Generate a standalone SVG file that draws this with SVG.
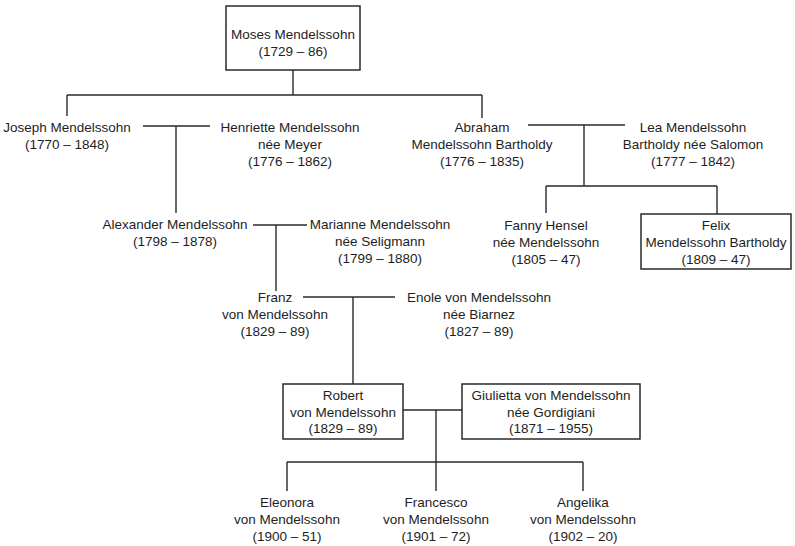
<svg xmlns="http://www.w3.org/2000/svg" width="795" height="546" viewBox="0 0 795 546">
<style>
text{font-family:"Liberation Sans",Arial,sans-serif;font-size:13.5px;fill:#1e1e1e;text-anchor:middle}
.box{fill:#fff;stroke:#2a2a2a;stroke-width:1.5}
.ln{fill:none;stroke:#2a2a2a;stroke-width:1.4}
</style>
<rect width="795" height="546" fill="#fff"/>
<g id="connectors" class="ln">
<path d="M293,70V95M67,95H482M67,95V116M482,95V118"/>
<path d="M143,126H210M176,126V213"/>
<path d="M528,125H625M584,125V186M546,186H717M546,186V213M717,186V214"/>
<path d="M253,225H307M276,225V291"/>
<path d="M303,297H395M353,297V384"/>
<path d="M403,410H462M436,410V491M287,462H583M287,462V491M583,462V491"/>
</g>
<g id="moses"><rect class="box" x="226" y="6" width="134" height="64"/><text x="293" y="39">Moses Mendelssohn</text><text x="293" y="56">(1729 – 86)</text></g>
<g id="joseph"><text x="67" y="132">Joseph Mendelssohn</text><text x="67" y="149">(1770 – 1848)</text></g>
<g id="henriette"><text x="290" y="132">Henriette Mendelssohn</text><text x="290" y="149">née Meyer</text><text x="290" y="166">(1776 – 1862)</text></g>
<g id="abraham"><text x="482" y="132">Abraham</text><text x="482" y="149">Mendelssohn Bartholdy</text><text x="482" y="166">(1776 – 1835)</text></g>
<g id="lea"><text x="693" y="132">Lea Mendelssohn</text><text x="693" y="149">Bartholdy née Salomon</text><text x="693" y="166">(1777 – 1842)</text></g>
<g id="alexander"><text x="175" y="229">Alexander Mendelssohn</text><text x="175" y="246">(1798 – 1878)</text></g>
<g id="marianne"><text x="380" y="229">Marianne Mendelssohn</text><text x="380" y="246">née Seligmann</text><text x="380" y="263">(1799 – 1880)</text></g>
<g id="fanny"><text x="546" y="230">Fanny Hensel</text><text x="546" y="247">née Mendelssohn</text><text x="546" y="264">(1805 – 47)</text></g>
<g id="felix"><rect class="box" x="641" y="214" width="150" height="55"/><text x="716" y="230">Felix</text><text x="716" y="247">Mendelssohn Bartholdy</text><text x="716" y="264">(1809 – 47)</text></g>
<g id="franz"><text x="275" y="302">Franz</text><text x="275" y="319">von Mendelssohn</text><text x="275" y="336">(1829 – 89)</text></g>
<g id="enole"><text x="479" y="302">Enole von Mendelssohn</text><text x="479" y="319">née Biarnez</text><text x="479" y="336">(1827 – 89)</text></g>
<g id="robert"><rect class="box" x="283" y="384" width="120" height="55"/><text x="343" y="400">Robert</text><text x="343" y="417">von Mendelssohn</text><text x="343" y="433">(1829 – 89)</text></g>
<g id="giulietta"><rect class="box" x="462" y="384" width="178" height="55"/><text x="551" y="400">Giulietta von Mendelssohn</text><text x="551" y="417">née Gordigiani</text><text x="551" y="433">(1871 – 1955)</text></g>
<g id="eleonora"><text x="287" y="507">Eleonora</text><text x="287" y="524">von Mendelssohn</text><text x="287" y="541">(1900 – 51)</text></g>
<g id="francesco"><text x="436" y="507">Francesco</text><text x="436" y="524">von Mendelssohn</text><text x="436" y="541">(1901 – 72)</text></g>
<g id="angelika"><text x="583" y="507">Angelika</text><text x="583" y="524">von Mendelssohn</text><text x="583" y="541">(1902 – 20)</text></g>
</svg>
